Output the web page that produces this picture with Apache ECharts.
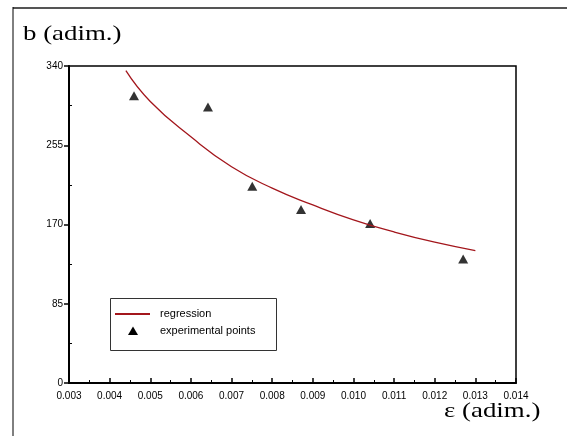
<!DOCTYPE html>
<html>
<head>
<meta charset="utf-8">
<script src="https://cdn.jsdelivr.net/npm/echarts@6/dist/echarts.min.js"></script>
<style>html,body{margin:0;padding:0;background:#fff;}#c{width:567px;height:436px;}</style>
</head>
<body>
<div id="c"></div>
<script>
// experimental points
var expX = [0.0046, 0.00642, 0.00751, 0.00871, 0.01041, 0.0127];
var expY = [308, 296, 211, 186, 171, 133];
// regression curve
var regX = [0.0044, 0.005, 0.006, 0.007, 0.008, 0.009, 0.010, 0.011, 0.012, 0.013];
var regY = [335, 302, 264, 232, 209, 191, 175, 162, 151, 142];
// axis ticks
var xTicks = [0.003, 0.004, 0.005, 0.006, 0.007, 0.008, 0.009, 0.010, 0.011, 0.012, 0.013, 0.014];
var yTicks = [0, 85, 170, 255, 340];
var yMinor = [42.5, 127.5, 212.5, 297.5];

var chart = echarts.init(document.getElementById('c'), null, {renderer: 'canvas'});
var sans = 'Liberation Sans, Arial, sans-serif';
var serif = 'Liberation Serif, Times New Roman, serif';
var option = {
  animation: false,
  backgroundColor: '#fff',
  grid: {left: 69, top: 66, width: 447, height: 317, show: true, borderColor: '#000', borderWidth: 1.5, backgroundColor: 'transparent'},
  xAxis: {
    type: 'value', min: xTicks[0], max: xTicks[xTicks.length - 1], interval: 0.001,
    axisLine: {show: true, onZero: false, lineStyle: {color: '#000', width: 2}},
    axisTick: {show: true, inside: true, length: 5, lineStyle: {color: '#000', width: 1.5}},
    minorTick: {show: true, splitNumber: 2, length: 3, lineStyle: {color: '#000', width: 1}},
    splitLine: {show: false},
    axisLabel: {color: '#000', fontFamily: sans, fontSize: 10, margin: 8,
      formatter: function (v) { return v.toFixed(3); }}
  },
  yAxis: [{
    type: 'value', min: 0, max: 340, interval: 85,
    axisLine: {show: true, lineStyle: {color: '#000', width: 2}},
    axisTick: {show: true, inside: false, length: 5, lineStyle: {color: '#000', width: 1.5}},
    splitLine: {show: false},
    axisLabel: {color: '#000', fontFamily: sans, fontSize: 10, margin: 6,
      customValues: yTicks}
  }, {
    type: 'value', min: 0, max: 340, position: 'left', offset: 0,
    axisLine: {show: false},
    axisTick: {show: true, inside: true, length: 3, customValues: yMinor, lineStyle: {color: '#000', width: 1}},
    axisLabel: {show: false},
    splitLine: {show: false}
  }],
  series: [{
    name: 'regression', type: 'line', smooth: true, symbol: 'none',
    data: regX.map(function (x, i) { return [x, regY[i]]; }),
    lineStyle: {color: '#a3161c', width: 1.3}
  }, {
    name: 'experimental points', type: 'scatter', symbol: 'triangle', symbolSize: [10, 9],
    data: expX.map(function (x, i) { return [x, expY[i]]; }),
    itemStyle: {color: '#000'}
  }],
  graphic: [
    {type: 'line', shape: {x1: 13, y1: 8, x2: 567, y2: 8}, style: {stroke: '#555', lineWidth: 2}},
    {type: 'line', shape: {x1: 13, y1: 7, x2: 13, y2: 436}, style: {stroke: '#000', lineWidth: 1}},
    {type: 'text', x: 23, y: 24, scaleX: 1.28, style: {text: 'b (adim.)', font: '21px ' + serif, fill: '#000', textVerticalAlign: 'top'}},
    {type: 'text', x: 444, y: 401, scaleX: 1.28, style: {text: 'ε (adim.)', font: '21px ' + serif, fill: '#000', textVerticalAlign: 'top'}},
    {type: 'rect', shape: {x: 110.5, y: 298.5, width: 166, height: 52}, style: {fill: '#fff', stroke: '#333', lineWidth: 1}, z: 10},
    {type: 'line', shape: {x1: 115, y1: 314, x2: 150, y2: 314}, style: {stroke: '#a3161c', lineWidth: 2}, z: 11},
    {type: 'polygon', shape: {points: [[133, 326.5], [138, 335], [128, 335]]}, style: {fill: '#000'}, z: 11},
    {type: 'text', left: 160, top: 308, style: {text: 'regression', font: '11px ' + sans, fill: '#000'}, z: 11},
    {type: 'text', left: 160, top: 325, style: {text: 'experimental points', font: '11px ' + sans, fill: '#000'}, z: 11}
  ]
};
chart.setOption(option);
</script>
</body>
</html>
